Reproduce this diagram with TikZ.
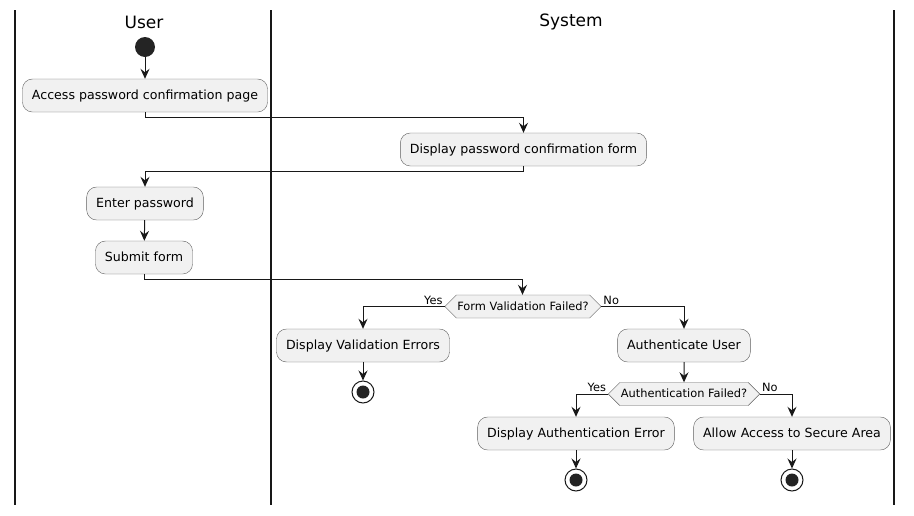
\documentclass[tikz,border=0pt]{standalone}
\usepackage{fontspec}
\setmainfont{DejaVu Sans}
\usepackage{xcolor}
\usetikzlibrary{positioning,shapes.symbols,arrows.meta}

\definecolor{boxfill}{HTML}{F1F1F1}
\definecolor{ink}{HTML}{181818}

\begin{document}
\begin{tikzpicture}[x=1pt, y=-1pt,
    every node/.style = {font=\fontsize{12.6}{14}\selectfont, text=black},
    act/.style = {draw=ink!70, fill=boxfill, rounded corners=10pt, minimum height=33pt, inner xsep=9.5pt, text height=10.5pt, text depth=2pt},
    check/.style = {draw=ink!70, fill=boxfill, signal, signal to=west and east, minimum height=23pt, inner xsep=1pt, text height=9pt, text depth=1.5pt, font=\fontsize{11.4}{13}\selectfont},
    lbl/.style = {inner sep=1.5pt, font=\fontsize{11.4}{13}\selectfont},
    lane/.style = {draw=ink, line width=1.4pt},
    title/.style = {font=\fontsize{17}{20}\selectfont},
    start/.style = {circle, fill=ink!95, minimum size=20pt, inner sep=0pt},
    stop/.style = {circle, draw=ink, fill=white, line width=1pt, minimum size=22pt, inner sep=0pt,
      path picture={\fill[ink!95] (path picture bounding box.center) circle (6.5pt);}},
    flow/.style = {draw=ink, line width=1pt, -{Stealth[length=10pt, width=9pt, inset=3.5pt]}}
  ]
  \useasboundingbox (0,0) rectangle (914,515);

  % swimlanes
  \draw[lane] (15,10) -- (15,505);
  \draw[lane] (271,10) -- (271,505);
  \draw[lane] (894,10) -- (894,505);
  \node[title] (user) at (144,22) {User};
  \node[title] (system) at (571,22) {System};

  \node[start] (init) at (145,47) {};
  \node[act] (access) at (145,95.5) {Access password confirmation page};
  \node[act] (form) at (523.5,149.5) {Display password confirmation form};
  \node[act] (enter) at (145,203.5) {Enter password};
  \node[act] (submit) at (144,257.5) {Submit form};
  \node[check] (valid) at (523,306.5) {Form Validation Failed?};
  \node[act] (valerr) at (363,345.5) {Display Validation Errors};
  \node[stop] (stop1) at (363,392) {};
  \node[act] (auth) at (684,345.5) {Authenticate User};
  \node[check] (authchk) at (684,394) {Authentication Failed?};
  \node[act] (autherr) at (576,433.5) {Display Authentication Error};
  \node[act] (allow) at (792,433.5) {Allow Access to Secure Area};
  \node[stop] (stop2) at (576,480) {};
  \node[stop] (stop3) at (792,480) {};

  \draw[flow] (init) -- (access);
  \draw[flow] (access.south) -- ++(0,5) -| (form.north);
  \draw[flow] (form.south) -- ++(0,5) -| (enter.north);
  \draw[flow] (enter) -- (submit);
  \draw[flow] (submit.south) -- ++(0,5) -| ([xshift=-0.5pt]valid.north);
  \draw[flow] (valid.west) -| node[lbl, pos=0, above left] {Yes} (valerr.north);
  \draw[flow] (valid.east) -| node[lbl, pos=0, above right] {No} (auth.north);
  \draw[flow] (valerr) -- (stop1);
  \draw[flow] (auth) -- (authchk);
  \draw[flow] (authchk.west) -| node[lbl, pos=0, above left] {Yes} (autherr.north);
  \draw[flow] (authchk.east) -| node[lbl, pos=0, above right] {No} (allow.north);
  \draw[flow] (autherr) -- (stop2);
  \draw[flow] (allow) -- (stop3);
\end{tikzpicture}
\end{document}
